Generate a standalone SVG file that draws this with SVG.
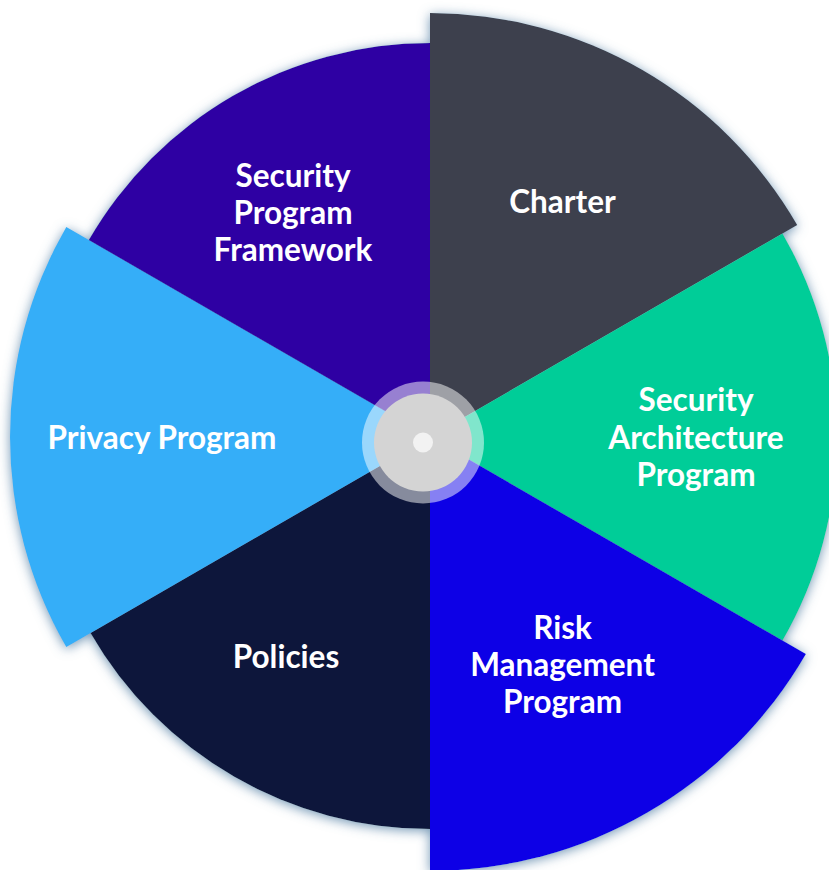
<svg xmlns="http://www.w3.org/2000/svg" width="829" height="870" viewBox="0 0 829 870">
<style>
.lbl{font-family:Lato,"Open Sans","Liberation Sans",sans-serif;font-weight:700;font-size:31.5px;fill:#ffffff;text-anchor:middle}
</style>
<defs>
<filter id="glow" x="-10%" y="-10%" width="120%" height="120%">
<feGaussianBlur in="SourceAlpha" stdDeviation="6" result="b"/>
<feOffset in="b" dx="0" dy="2" result="o"/>
<feFlood flood-color="#6a90b0" flood-opacity="0.95"/>
<feComposite in2="o" operator="in" result="s"/>
<feMerge><feMergeNode in="s"/><feMergeNode in="SourceGraphic"/></feMerge>
</filter>
</defs>
<rect width="829" height="870" fill="#ffffff"/>
<g id="wheel" filter="url(#glow)">
<g id="charter"><path d="M430,437 L430,13 A424,424 0 0 1 797.2,225 Z" fill="#3c404d"/></g>
<g id="security-architecture"><path d="M430,437 L782.5,233.5 A407,407 0 0 1 782.5,640.5 Z" fill="#00cd98"/></g>
<g id="risk-management"><path d="M430,437 L805.9,654 A434,434 0 0 1 430,871 Z" fill="#0900e6"/></g>
<g id="policies"><path d="M430,437 L430,829 A392,392 0 0 1 90.5,633 Z" fill="#10173b"/></g>
<g id="privacy"><path d="M430,437 L66.3,647 A420,420 0 0 1 66.3,227 Z" fill="#34aef8"/></g>
<g id="security-program-framework"><path d="M430,437 L88.8,240 A394,394 0 0 1 430,43 Z" fill="#2e03a3"/></g>
</g>
<g id="labels">
<text class="lbl" x="562.5" y="213">Charter</text>
<text class="lbl" x="696" y="411">Security</text>
<text class="lbl" x="696" y="448.5">Architecture</text>
<text class="lbl" x="696" y="486">Program</text>
<text class="lbl" x="562.5" y="639">Risk</text>
<text class="lbl" x="562.5" y="676">Management</text>
<text class="lbl" x="562.5" y="713">Program</text>
<text class="lbl" x="286" y="668">Policies</text>
<text class="lbl" x="162" y="449">Privacy Program</text>
<text class="lbl" x="293" y="187">Security</text>
<text class="lbl" x="293" y="224">Program</text>
<text class="lbl" x="293" y="261">Framework</text>
</g>
<g id="hub">
<circle cx="423" cy="442.5" r="61" fill="#ffffff" fill-opacity="0.5"/>
<circle cx="423" cy="442.5" r="49" fill="#d4d4d4"/>
<circle cx="423" cy="442.5" r="10" fill="#f2f2f2"/>
</g>
</svg>
